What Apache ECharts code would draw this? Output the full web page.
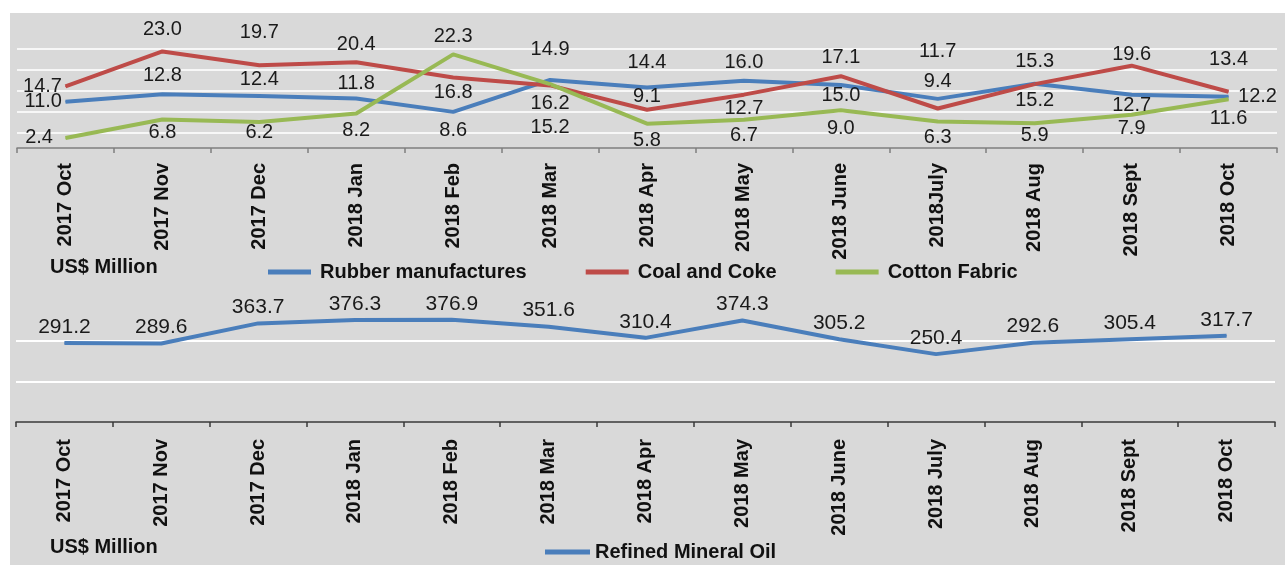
<!DOCTYPE html>
<html>
<head>
<meta charset="utf-8">
<script src="https://cdn.jsdelivr.net/npm/echarts@6/dist/echarts.min.js"></script>
<style>
  html, body { margin: 0; padding: 0; background: #ffffff; }
  #wrap { position: relative; width: 1285px; height: 565px; background: #ffffff; overflow: hidden; }
  #bg { position: absolute; left: 10px; top: 13px; right: 0; bottom: 0; background: #d9d9d9; }
  #chart { position: absolute; left: 0; top: 0; width: 1285px; height: 565px; }
</style>
</head>
<body>
<div id="wrap"><div id="bg"></div><div id="chart"></div></div>
<script>
// ---- data ----
const topCategories = ['2017 Oct','2017 Nov','2017 Dec','2018 Jan','2018 Feb','2018 Mar','2018 Apr','2018 May','2018 June','2018July','2018 Aug','2018 Sept','2018 Oct'];
const bottomCategories = ['2017 Oct','2017 Nov','2017 Dec','2018 Jan','2018 Feb','2018 Mar','2018 Apr','2018 May','2018 June','2018 July','2018 Aug','2018 Sept','2018 Oct'];
const rubberManufactures = [11.0, 12.8, 12.4, 11.8, 8.6, 16.2, 14.4, 16.0, 15.0, 11.7, 15.3, 12.7, 12.2];
const coalAndCoke = [14.7, 23.0, 19.7, 20.4, 16.8, 14.9, 9.1, 12.7, 17.1, 9.4, 15.2, 19.6, 13.4];
const cottonFabric = [2.4, 6.8, 6.2, 8.2, 22.3, 15.2, 5.8, 6.7, 9.0, 6.3, 5.9, 7.9, 11.6];
const refinedMineralOil = [291.2, 289.6, 363.7, 376.3, 376.9, 351.6, 310.4, 374.3, 305.2, 250.4, 292.6, 305.4, 317.7];
const unitLabel = 'US$ Million';

// ---- label placement (layout only) ----
const rubberLabelPos = ['left','top','top','top','bottom','bottom','top','top','bottom','top','top','bottom','right'];
const rubberLabelGap = [3,8,6,4,8,13,15,8,0,37,12,0,9];
const coalLabelPos = ['left','top','top','top','bottom','top','top','bottom','top','top','bottom','top','top'];
const coalLabelGap = [3,11,22,7,5,25,3,3,8,17,6,1,22];
const cottonLabelPos = ['left','bottom','bottom','bottom','top','bottom','bottom','bottom','bottom','bottom','bottom','bottom','bottom'];
const cottonLabelGap = [12,3,0,6,7,33,6,5,8,5,2,3,9];

const FONT = "'Liberation Sans', Arial, sans-serif";
const BLUE = '#4a7ebb', RED = '#be4b48', GREEN = '#98b954';

function withLabels(values, pos, gap) {
  return values.map((v, i) => ({ value: v, label: { position: pos[i], distance: gap[i] } }));
}

function topLine(name, color, values, pos, gap) {
  return {
    name: name, type: 'line', xAxisIndex: 0, yAxisIndex: 0,
    data: withLabels(values, pos, gap),
    symbol: 'circle', symbolSize: 1, showSymbol: true,
    lineStyle: { color: color, width: 4 },
    itemStyle: { color: color },
    label: { show: true, color: '#1a1a1a', fontFamily: FONT, fontSize: 20, formatter: p => p.value.toFixed(1) },
    animation: false
  };
}

const chart = echarts.init(document.getElementById('chart'), null, { renderer: 'canvas' });
const option = {
  backgroundColor: 'transparent',
  animation: false,
  grid: [
    { left: 17, right: 8, top: 43, bottom: 417 },     // top data
    { left: 16, right: 10, top: 300, bottom: 143 },   // bottom data
    { left: 17, right: 8, top: 49, bottom: 432 }      // top gridlines
  ],
  xAxis: [
    { type: 'category', gridIndex: 0, data: topCategories, boundaryGap: true,
      axisLine: { lineStyle: { color: '#7f7f7f', width: 1.5 } },
      axisTick: { show: true, length: 5, lineStyle: { color: '#7f7f7f', width: 1.5 } },
      axisLabel: { rotate: 90, margin: 15, interval: 0, color: '#111', fontFamily: FONT, fontWeight: 'bold', fontSize: 20 } },
    { type: 'category', gridIndex: 1, data: bottomCategories, boundaryGap: true,
      axisLine: { lineStyle: { color: '#3a3a3a', width: 1.5 } },
      axisTick: { show: true, length: 5, lineStyle: { color: '#3a3a3a', width: 1.5 } },
      axisLabel: { rotate: 90, margin: 17, interval: 0, color: '#111', fontFamily: FONT, fontWeight: 'bold', fontSize: 20 } },
    { type: 'value', gridIndex: 2, show: false, min: 0, max: 1 }
  ],
  yAxis: [
    { type: 'value', gridIndex: 0, min: 0, max: 25, show: false, splitLine: { show: false } },
    { type: 'value', gridIndex: 1, min: 0, max: 450, interval: 150,
      axisLine: { show: false }, axisTick: { show: false }, axisLabel: { show: false },
      splitLine: { show: true, showMinLine: false, showMaxLine: false, lineStyle: { color: '#ffffff', width: 2 } } },
    { type: 'value', gridIndex: 2, min: 0, max: 4, interval: 1,
      axisLine: { show: false }, axisTick: { show: false }, axisLabel: { show: false },
      splitLine: { show: true, lineStyle: { color: '#f7f7f7', width: 2 } } }
  ],
  legend: [
    { data: ['Rubber manufactures','Coal and Coke','Cotton Fabric'], left: 263, top: 257,
      icon: 'rect', itemWidth: 43, itemHeight: 5, itemGap: 59,
      textStyle: { color: '#111', fontFamily: FONT, fontWeight: 'bold', fontSize: 20, padding: [0,0,0,4] } },
    { data: ['Refined Mineral Oil'], left: 540, top: 537,
      icon: 'rect', itemWidth: 45, itemHeight: 5, itemGap: 20,
      textStyle: { color: '#111', fontFamily: FONT, fontWeight: 'bold', fontSize: 20 } }
  ],
  graphic: [
    { type: 'text', left: 50, top: 257, style: { text: unitLabel, fill: '#111', font: "bold 20px 'Liberation Sans', Arial, sans-serif" } },
    { type: 'text', left: 50, top: 537, style: { text: unitLabel, fill: '#111', font: "bold 20px 'Liberation Sans', Arial, sans-serif" } }
  ],
  series: [
    topLine('Rubber manufactures', BLUE, rubberManufactures, rubberLabelPos, rubberLabelGap),
    topLine('Coal and Coke', RED, coalAndCoke, coalLabelPos, coalLabelGap),
    topLine('Cotton Fabric', GREEN, cottonFabric, cottonLabelPos, cottonLabelGap),
    { name: 'Refined Mineral Oil', type: 'line', xAxisIndex: 1, yAxisIndex: 1,
      data: refinedMineralOil, symbol: 'circle', symbolSize: 1, showSymbol: true,
      lineStyle: { color: BLUE, width: 4 }, itemStyle: { color: BLUE },
      label: { show: true, position: 'top', distance: 5, color: '#1a1a1a', fontFamily: FONT, fontSize: 21, formatter: p => p.value.toFixed(1) },
      animation: false }
  ]
};
chart.setOption(option);
</script>
</body>
</html>
